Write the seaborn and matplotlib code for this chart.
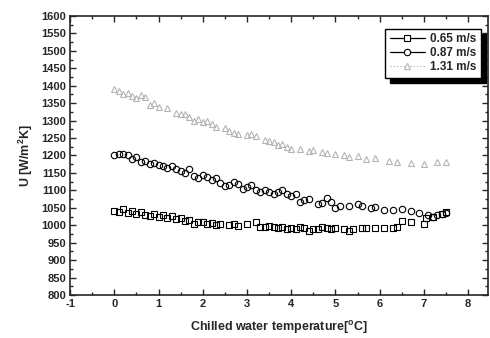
import numpy as np
import pandas as pd
import matplotlib
matplotlib.use('Agg')
import matplotlib.pyplot as plt
from matplotlib.lines import Line2D
from matplotlib.ticker import MultipleLocator
import seaborn as sns

# U vs chilled water temperature, three flow velocities
x_065 = [0, 0.1, 0.2, 0.3, 0.4, 0.5, 0.6, 0.7, 0.8, 0.9, 1.0, 1.1, 1.2, 1.3, 1.4, 1.5, 1.6, 1.7, 1.8, 1.9,
         2.0, 2.1, 2.2, 2.3, 2.4, 2.6, 2.7, 2.8, 3.0, 3.2, 3.3, 3.4, 3.5, 3.6, 3.7, 3.8, 3.9, 4.0, 4.1, 4.2,
         4.3, 4.4, 4.5, 4.6, 4.7, 4.8, 4.9, 5.0, 5.2, 5.3, 5.4, 5.6, 5.7, 5.9, 6.1, 6.3, 6.4, 6.5, 6.7, 7.0,
         7.05, 7.2, 7.4, 7.5]
u_065 = [1040, 1038, 1048, 1035, 1040, 1033, 1038, 1030, 1028, 1032, 1025, 1030, 1022, 1027, 1018, 1020, 1012, 1015, 1005, 1008,
         1010, 1005, 1006, 1000, 1005, 1000, 1003, 998, 1005, 1008, 995, 996, 998, 995, 992, 995, 990, 992, 988, 995,
         992, 985, 988, 990, 995, 993, 990, 992, 988, 985, 990, 993, 993, 993, 993, 993, 995, 1012, 1008, 1005,
         1020, 1025, 1032, 1038]

x_087 = [0, 0.1, 0.2, 0.3, 0.4, 0.5, 0.6, 0.7, 0.8, 0.9, 1.0, 1.1, 1.2, 1.3, 1.4, 1.5, 1.6, 1.7, 1.8, 1.9,
         2.0, 2.1, 2.2, 2.3, 2.4, 2.5, 2.6, 2.7, 2.8, 2.9, 3.0, 3.1, 3.2, 3.3, 3.4, 3.5, 3.6, 3.7, 3.8, 3.9,
         4.0, 4.1, 4.2, 4.3, 4.4, 4.6, 4.7, 4.8, 4.9, 5.0, 5.1, 5.3, 5.5, 5.6, 5.8, 5.9, 6.1, 6.3, 6.5, 6.7,
         6.9, 7.1, 7.2, 7.3, 7.4, 7.5]
u_087 = [1200, 1205, 1203, 1200, 1190, 1195, 1182, 1185, 1175, 1178, 1172, 1170, 1165, 1170, 1160, 1155, 1150, 1160, 1140, 1135,
         1145, 1138, 1130, 1135, 1120, 1112, 1115, 1125, 1118, 1105, 1110, 1115, 1100, 1095, 1100, 1095, 1090, 1095, 1100, 1090,
         1085, 1090, 1068, 1072, 1075, 1060, 1065, 1078, 1068, 1050, 1055, 1055, 1060, 1055, 1050, 1052, 1045, 1045, 1048, 1042,
         1035, 1030, 1025, 1030, 1032, 1035]

x_131 = [0, 0.1, 0.2, 0.3, 0.4, 0.5, 0.6, 0.7, 0.8, 0.9, 1.0, 1.2, 1.4, 1.5, 1.6, 1.7, 1.8, 1.9, 2.0, 2.1,
         2.2, 2.3, 2.5, 2.6, 2.7, 2.8, 3.0, 3.1, 3.2, 3.4, 3.5, 3.6, 3.7, 3.8, 3.9, 4.0, 4.2, 4.4, 4.5, 4.7,
         4.8, 5.0, 5.2, 5.3, 5.5, 5.7, 5.9, 6.2, 6.4, 6.7, 7.0, 7.3, 7.5]
u_131 = [1390, 1385, 1375, 1380, 1370, 1365, 1372, 1368, 1345, 1350, 1340, 1335, 1322, 1318, 1320, 1310, 1300, 1305, 1295, 1300,
         1290, 1282, 1278, 1270, 1265, 1262, 1258, 1262, 1255, 1245, 1242, 1238, 1230, 1232, 1225, 1220, 1220, 1212, 1215, 1210,
         1208, 1205, 1200, 1195, 1198, 1190, 1192, 1185, 1182, 1178, 1176, 1182, 1180]

labels = ['0.65 m/s', '0.87 m/s', '1.31 m/s']

sns.set_style('ticks')
plt.rcParams['font.family'] = ['Liberation Sans', 'DejaVu Sans']
plt.rcParams['font.weight'] = 'bold'
plt.rcParams['axes.unicode_minus'] = False

fig, ax = plt.subplots(figsize=(4.9, 3.38), dpi=100)
fig.subplots_adjust(left=0.143, right=0.996, top=0.953, bottom=0.127)

series = [(x_065, u_065, 's', 'black', '-', 4.3),
          (x_087, u_087, 'o', 'black', '-', 4.6),
          (x_131, u_131, '^', '#b4b4b4', ':', 4.6)]

handles = []
for (xs, us, mk, col, ls, ms), lab in zip(series, labels):
    sns.lineplot(x=xs, y=us, ax=ax, estimator=None, sort=False, linestyle='',
                 marker=mk, markersize=ms, mfc='none', mec=col, mew=0.8, color=col)
    handles.append(Line2D([], [], color=col, linestyle=ls, lw=0.9, marker=mk,
                          markersize=ms, mfc='white', mec=col, mew=0.8))

ax.set_xlim(-1, 8.45)
ax.set_ylim(800, 1600)
ax.xaxis.set_major_locator(MultipleLocator(1))
ax.xaxis.set_minor_locator(MultipleLocator(0.5))
ax.yaxis.set_major_locator(MultipleLocator(50))
ax.yaxis.set_minor_locator(MultipleLocator(25))
ax.tick_params(which='both', direction='in', top=True, right=True, labelsize=8, width=1, pad=3)
ax.tick_params(which='major', length=4)
ax.tick_params(which='minor', length=2)
for sp in ax.spines.values():
    sp.set_linewidth(1.2)

ax.set_xlabel('Chilled water temperature[$^\\mathregular{o}$C]', fontsize=9, fontweight='bold', labelpad=7)
ax.set_ylabel('U [W/m$^\\mathregular{2}$K]', fontsize=9, fontweight='bold', labelpad=4)

leg = ax.legend(handles, labels, loc='upper right', fontsize=8.5, frameon=True, fancybox=False,
                shadow={'color': 'black', 'alpha': 1, 'ox': 4, 'oy': -4}, edgecolor='black',
                handlelength=3.0, borderpad=0.4, labelspacing=0.15, handletextpad=0.4,
                bbox_to_anchor=(0.997, 0.975))
leg.get_frame().set_linewidth(1.0)
for t in leg.get_texts():
    t.set_fontweight('bold')

plt.savefig('out.png', dpi=100)
